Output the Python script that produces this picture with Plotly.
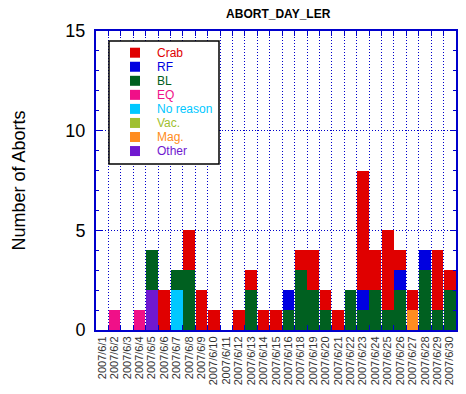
import plotly.graph_objects as go

dates = ["2007/6/1","2007/6/2","2007/6/3","2007/6/4","2007/6/5","2007/6/6","2007/6/7","2007/6/8",
         "2007/6/9","2007/6/10","2007/6/11","2007/6/12","2007/6/13","2007/6/14","2007/6/15",
         "2007/6/16","2007/6/18","2007/6/19","2007/6/20","2007/6/21","2007/6/22","2007/6/23",
         "2007/6/24","2007/6/25","2007/6/26","2007/6/27","2007/6/28","2007/6/29","2007/6/30"]

crab      = [0,0,0,0,0,2,0,2,2,1,0,1,1,1,1,0,1,2,1,1,0,6,2,4,1,1,0,3,1]
rf        = [0,0,0,0,0,0,0,0,0,0,0,0,0,0,0,1,0,0,0,0,0,1,0,0,1,0,1,0,0]
bl        = [0,0,0,0,2,0,1,3,0,0,0,0,2,0,0,1,3,2,1,0,2,1,2,1,2,0,3,1,2]
eq        = [0,1,0,1,0,0,0,0,0,0,0,0,0,0,0,0,0,0,0,0,0,0,0,0,0,0,0,0,0]
no_reason = [0,0,0,0,0,0,2,0,0,0,0,0,0,0,0,0,0,0,0,0,0,0,0,0,0,0,0,0,0]
vac       = [0]*29
mag       = [0,0,0,0,0,0,0,0,0,0,0,0,0,0,0,0,0,0,0,0,0,0,0,0,0,1,0,0,0]
other     = [0,0,0,0,2,0,0,0,0,0,0,0,0,0,0,0,0,0,0,0,0,0,0,0,0,0,0,0,0]

y_ticks = [0, 5, 10, 15]

# legend order (top to bottom); stacking is the reverse (Other at bottom)
series = [
    ("Crab", crab, "#e00000"),
    ("RF", rf, "#0000e0"),
    ("BL", bl, "#006020"),
    ("EQ", eq, "#f01088"),
    ("No reason", no_reason, "#00c8ff"),
    ("Vac.", vac, "#a0c030"),
    ("Mag.", mag, "#ff8c20"),
    ("Other", other, "#7018d0"),
]

# page is 466x394; the html body adds an 8px margin, so the figure is offset by 8px
OFF = 8
W, H = 466 - OFF, 394 - OFF
PL, PR, PT, PB = 96, 456, 31, 330          # plot area edges in page pixels
L, T = PL - OFF, PT - OFF
R, B = OFF + W - PR, OFF + H - PB
PW, PH = PR - PL, PB - PT
blue = "#0000cc"

def px_x(x):
    return (x - PL) / PW

def px_y(y):
    return (PB - y) / PH

fig = go.Figure()
for name, vals, col in reversed(series):
    fig.add_trace(go.Bar(x=dates, y=vals, name=name, showlegend=False,
                         marker=dict(color=col, line=dict(width=0))))

# hand-built legend box (to match the compact original spacing)
shapes = [dict(type="rect", xref="paper", yref="paper",
               x0=px_x(109), x1=px_x(219), y0=px_y(164), y1=px_y(41),
               line=dict(color="black", width=1.5), fillcolor="white", layer="above")]
annotations = []
for i, (name, vals, col) in enumerate(series):
    cy = 52.7 + i * 14.05
    shapes.append(dict(type="rect", xref="paper", yref="paper",
                       x0=px_x(130), x1=px_x(140), y0=px_y(cy + 5), y1=px_y(cy - 5),
                       line=dict(width=0), fillcolor=col, layer="above"))
    annotations.append(dict(text=name, xref="paper", yref="paper", x=px_x(155),
                            y=px_y(cy), xanchor="left", yanchor="middle", showarrow=False,
                            font=dict(size=12, color=col)))

fig.update_layout(
    barmode="stack",
    bargap=0.06,
    width=W, height=H,
    margin=dict(l=L, r=R, t=T, b=B, autoexpand=False),
    paper_bgcolor="white", plot_bgcolor="white",
    font=dict(family="Liberation Sans, Arial, sans-serif", color="black"),
    title=dict(text="<b>ABORT_DAY_LER</b>", x=0.59, xanchor="center", y=0.995, yanchor="top",
               pad=dict(t=0), font=dict(size=12, color="black")),
    showlegend=False,
    shapes=shapes,
    annotations=annotations,
    xaxis=dict(type="category", categoryorder="array", categoryarray=dates,
               tickmode="linear", dtick=1, automargin=False,
               tickson="boundaries", ticks="inside", ticklen=5, tickcolor=blue,
               showline=True, linecolor=blue, linewidth=2, mirror="ticks",
               showgrid=True, gridcolor=blue, griddash="1px,2px", gridwidth=1,
               tickangle=-90, tickfont=dict(size=11, color="#333"), range=[-0.5, 28.5]),
    yaxis=dict(range=[0, 15], tickvals=y_ticks, ticks="inside", ticklen=6, tickcolor=blue,
               showline=True, linecolor=blue, linewidth=2, mirror="ticks", automargin=False,
               showgrid=True, gridcolor=blue, griddash="1px,2px", gridwidth=1,
               zeroline=False, tickfont=dict(size=18), ticklabelstandoff=5,
               minor=dict(dtick=1, ticks="inside", ticklen=3, tickcolor=blue, showgrid=False),
               title=dict(text="Number of Aborts", font=dict(size=18), standoff=35)),
)

fig.write_html("out.html")
